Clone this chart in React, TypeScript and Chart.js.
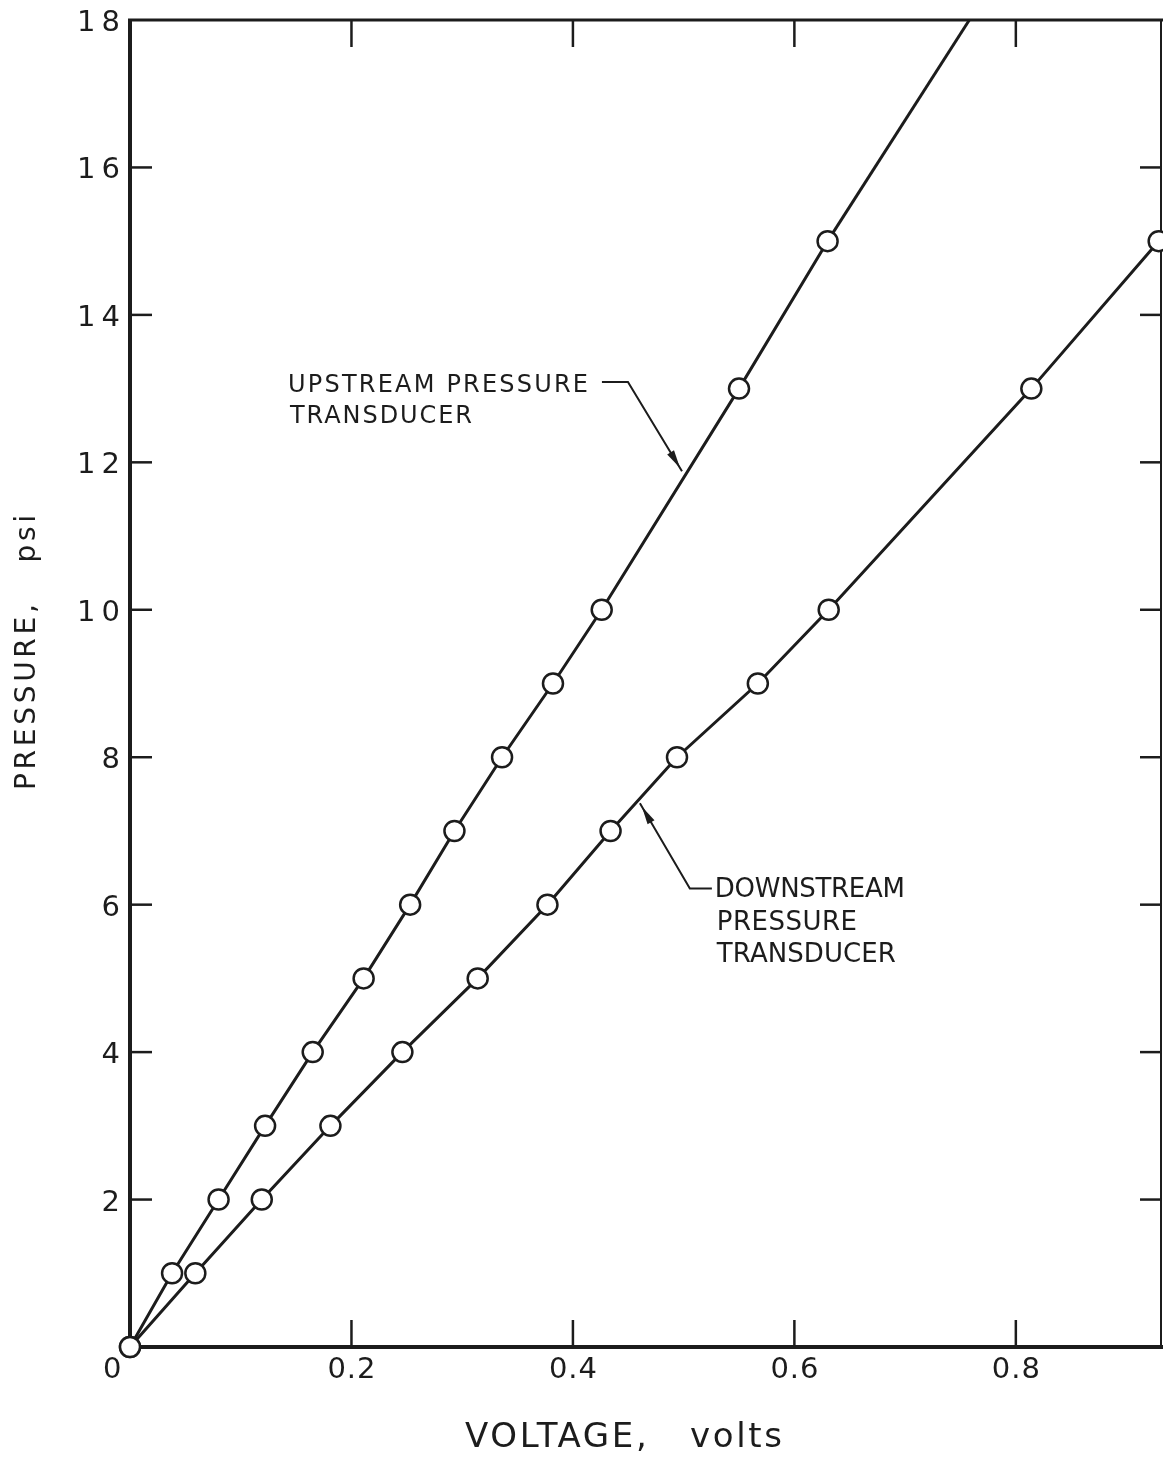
import React, { useEffect, useRef } from 'react';
import { Chart, registerables } from 'chart.js';

Chart.register(...registerables);

// ---- data ----
const upstreamVolts = [0.0, 0.038, 0.080, 0.122, 0.165, 0.211, 0.253, 0.293, 0.336, 0.382, 0.426, 0.550, 0.630];
const upstreamPsi = [0, 1, 2, 3, 4, 5, 6, 7, 8, 9, 10, 13, 15];
const upstreamFitVolts = [0.630, 0.758];
const upstreamFitPsi = [15, 18];

const downstreamVolts = [0.0, 0.059, 0.119, 0.181, 0.246, 0.314, 0.377, 0.434, 0.494, 0.567, 0.631, 0.814, 0.929];
const downstreamPsi = [0, 1, 2, 3, 4, 5, 6, 7, 8, 9, 10, 13, 15];

const xTickValues = [0, 0.2, 0.4, 0.6, 0.8];
const xTickLabels = ['0', '0.2', '0.4', '0.6', '0.8'];
const yTickValues = [2, 4, 6, 8, 10, 12, 14, 16, 18];
const yTickLabels = ['2', '4', '6', '8', '10', '12', '14', '16', '18'];

const xTitle = 'VOLTAGE,   volts';
const yTitle = 'PRESSURE,   psi';
const upstreamLabel = ['UPSTREAM PRESSURE', 'TRANSDUCER'];
const downstreamLabel = ['DOWNSTREAM', 'PRESSURE', 'TRANSDUCER'];

const X_MAX = 0.932;
const Y_MAX = 18;

const FONT = '"DejaVu Sans", "Liberation Sans", Arial, sans-serif';
const INK = '#1c1c1c';

function pts(xs: number[], ys: number[]) {
  return xs.map((v, i) => ({ x: v, y: ys[i] }));
}

function setSpacing(ctx: any, px: number) {
  try {
    ctx.letterSpacing = `${px}px`;
  } catch (e) {
    /* ignore */
  }
}

// draw text stretched (via letter spacing) to a given width, starting at x
function fitText(ctx: CanvasRenderingContext2D, text: string, x: number, y: number, width: number, size: number) {
  ctx.font = `${size}px ${FONT}`;
  setSpacing(ctx, 0);
  const w0 = ctx.measureText(text).width;
  const n = text.length;
  const ls = n > 1 ? (width - w0) / (n - 1) : 0;
  setSpacing(ctx, ls);
  ctx.textAlign = 'left';
  ctx.textBaseline = 'alphabetic';
  ctx.fillText(text, x, y);
  setSpacing(ctx, 0);
}

// draw text with a fixed letter spacing, right edge at x
function spacedRight(ctx: CanvasRenderingContext2D, text: string, right: number, y: number, spacing: number, size: number) {
  ctx.font = `${size}px ${FONT}`;
  setSpacing(ctx, 0);
  const w0 = ctx.measureText(text).width;
  const w = w0 + spacing * (text.length - 1);
  setSpacing(ctx, spacing);
  ctx.textAlign = 'left';
  ctx.textBaseline = 'alphabetic';
  ctx.fillText(text, right - w, y);
  setSpacing(ctx, 0);
}

function arrowHead(ctx: CanvasRenderingContext2D, fx: number, fy: number, tx: number, ty: number) {
  const ang = Math.atan2(ty - fy, tx - fx);
  const len = 18;
  const hw = 4;
  const back = 4;
  const tipX = tx - Math.cos(ang) * back;
  const tipY = ty - Math.sin(ang) * back;
  const bx = tipX - Math.cos(ang) * len;
  const by = tipY - Math.sin(ang) * len;
  ctx.beginPath();
  ctx.moveTo(tipX, tipY);
  ctx.lineTo(bx + Math.cos(ang + Math.PI / 2) * hw, by + Math.sin(ang + Math.PI / 2) * hw);
  ctx.lineTo(bx + Math.cos(ang - Math.PI / 2) * hw, by + Math.sin(ang - Math.PI / 2) * hw);
  ctx.closePath();
  ctx.fill();
}

const decorPlugin = {
  id: 'decor',
  beforeDatasetsDraw(chart: any) {
    const { ctx, chartArea: a, scales } = chart;
    const xs = scales.x;
    const ys = scales.y;
    ctx.save();
    ctx.strokeStyle = INK;
    ctx.lineCap = 'butt';
    // frame
    ctx.lineWidth = 4;
    ctx.beginPath();
    ctx.moveTo(a.left, a.top - 1);
    ctx.lineTo(a.left, a.bottom + 2);
    ctx.stroke();
    ctx.beginPath();
    ctx.moveTo(a.left - 2, a.bottom);
    ctx.lineTo(a.right + 1, a.bottom);
    ctx.stroke();
    ctx.lineWidth = 3;
    ctx.beginPath();
    ctx.moveTo(a.left - 2, a.top);
    ctx.lineTo(a.right + 1, a.top);
    ctx.stroke();
    ctx.lineWidth = 2;
    ctx.beginPath();
    ctx.moveTo(a.right - 1, a.top);
    ctx.lineTo(a.right - 1, a.bottom);
    ctx.stroke();

    // inward ticks
    ctx.lineWidth = 2.5;
    yTickValues.forEach((v) => {
      if (v <= 0 || v >= Y_MAX) return;
      const py = ys.getPixelForValue(v);
      ctx.beginPath();
      ctx.moveTo(a.left, py);
      ctx.lineTo(a.left + 22, py);
      ctx.stroke();
      ctx.beginPath();
      ctx.moveTo(a.right, py);
      ctx.lineTo(a.right - 22, py);
      ctx.stroke();
    });
    xTickValues.forEach((v) => {
      if (v <= 0) return;
      const px = xs.getPixelForValue(v);
      ctx.beginPath();
      ctx.moveTo(px, a.top);
      ctx.lineTo(px, a.top + 27);
      ctx.stroke();
      ctx.beginPath();
      ctx.moveTo(px, a.bottom);
      ctx.lineTo(px, a.bottom - 27);
      ctx.stroke();
    });
    ctx.restore();
  },
  afterDraw(chart: any) {
    const { ctx, chartArea: a, scales } = chart;
    const xs = scales.x;
    const ys = scales.y;
    const X = (v: number) => xs.getPixelForValue(v);
    const Y = (v: number) => ys.getPixelForValue(v);
    ctx.save();
    ctx.fillStyle = INK;
    ctx.strokeStyle = INK;

    // y tick labels (right aligned near the axis)
    yTickValues.forEach((v, i) => {
      spacedRight(ctx, yTickLabels[i], a.left - 10, Y(v) + 11, 6, 29);
    });

    // x tick labels
    xTickValues.forEach((v, i) => {
      const label = xTickLabels[i];
      const size = 29;
      if (v === 0) {
        fitText(ctx, label, X(v) - 27, a.bottom + 31, 19, size);
      } else {
        const width = 48;
        fitText(ctx, label, X(v) - width / 2, a.bottom + 31, width, size);
      }
    });

    // x title
    fitText(ctx, xTitle, 465, a.bottom + 100, 317, 34);

    // y title (rotated)
    ctx.save();
    ctx.translate(35, 790);
    ctx.rotate(-Math.PI / 2);
    fitText(ctx, yTitle, 0, 0, 275, 28);
    ctx.restore();

    // upstream annotation
    fitText(ctx, upstreamLabel[0], X(0.1427), Y(12.95), 300, 24);
    fitText(ctx, upstreamLabel[1], X(0.1445), Y(12.54), 182, 24);
    ctx.lineWidth = 2;
    ctx.beginPath();
    ctx.moveTo(X(0.4262), Y(13.09));
    ctx.lineTo(X(0.4497), Y(13.09));
    ctx.lineTo(X(0.4985), Y(11.88));
    ctx.stroke();
    arrowHead(ctx, X(0.4497), Y(13.09), X(0.4985), Y(11.88));

    // downstream annotation
    ctx.beginPath();
    ctx.moveTo(X(0.4605), Y(7.376));
    ctx.lineTo(X(0.5056), Y(6.22));
    ctx.lineTo(X(0.5255), Y(6.22));
    ctx.stroke();
    arrowHead(ctx, X(0.5056), Y(6.22), X(0.4605), Y(7.376));
    fitText(ctx, downstreamLabel[0], X(0.5282), Y(6.10), 190, 26);
    fitText(ctx, downstreamLabel[1], X(0.5300), Y(5.65), 140, 26);
    fitText(ctx, downstreamLabel[2], X(0.5300), Y(5.22), 179, 26);

    ctx.restore();
  },
};

export default function App() {
  const canvasRef = useRef<HTMLCanvasElement | null>(null);

  useEffect(() => {
    document.body.style.margin = '0';
    document.body.style.background = '#ffffff';
    const canvas = canvasRef.current;
    if (!canvas) return;

    const lineStyle = {
      showLine: true,
      borderColor: INK,
      borderWidth: 3,
      pointRadius: 10,
      pointBorderWidth: 2.5,
      pointBackgroundColor: '#ffffff',
      pointBorderColor: INK,
      pointHoverRadius: 10,
      clip: false as any,
      tension: 0,
    };

    const chart = new Chart(canvas, {
      type: 'scatter',
      data: {
        datasets: [
          { label: 'Upstream pressure transducer', data: pts(upstreamVolts, upstreamPsi), ...lineStyle },
          { label: 'Downstream pressure transducer', data: pts(downstreamVolts, downstreamPsi), ...lineStyle },
          {
            label: 'Upstream fit',
            data: pts(upstreamFitVolts, upstreamFitPsi),
            showLine: true,
            borderColor: INK,
            borderWidth: 3,
            pointRadius: 0,
            clip: false as any,
          },
        ],
      },
      options: {
        animation: false,
        responsive: false,
        devicePixelRatio: 1,
        layout: { autoPadding: false, padding: { top: 20, right: 1, left: 0, bottom: 0 } },
        plugins: {
          legend: { display: false },
          tooltip: { enabled: false },
        },
        scales: {
          x: {
            type: 'linear',
            min: 0,
            max: X_MAX,
            grid: { display: false },
            border: { display: false },
            ticks: { display: false },
            afterFit: (s: any) => {
              s.height = 110;
            },
          },
          y: {
            type: 'linear',
            min: 0,
            max: Y_MAX,
            grid: { display: false },
            border: { display: false },
            ticks: { display: false },
            afterFit: (s: any) => {
              s.width = 130;
            },
          },
        },
      },
      plugins: [decorPlugin],
    } as any);

    return () => {
      chart.destroy();
    };
  }, []);

  return (
    <div style={{ width: 1163, height: 1457, background: '#fff' }}>
      <canvas ref={canvasRef} width={1163} height={1457} style={{ display: 'block' }} />
    </div>
  );
}
